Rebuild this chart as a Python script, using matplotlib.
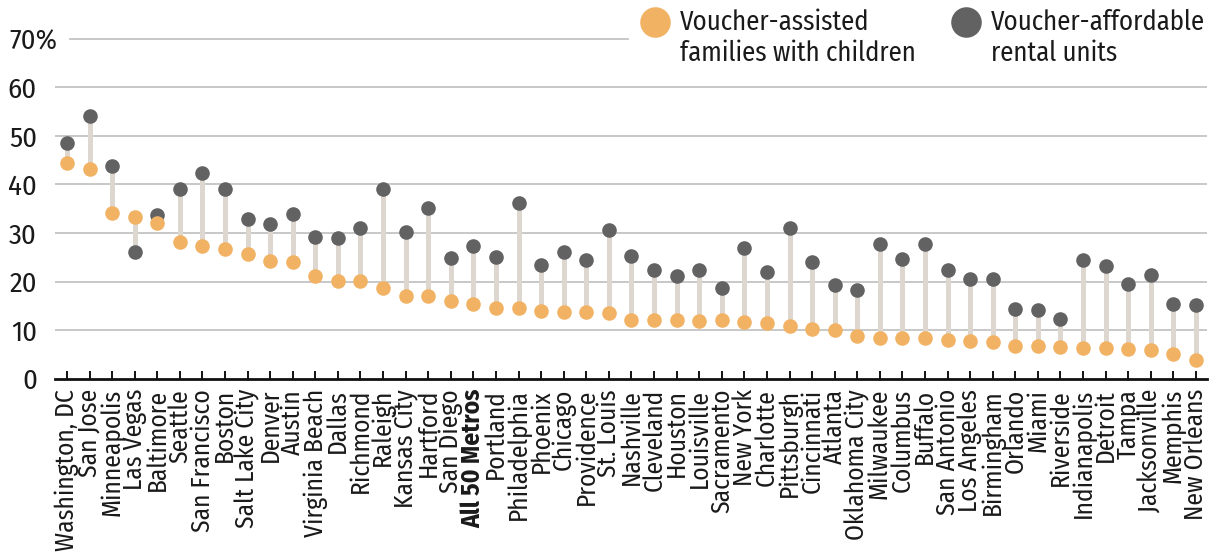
import matplotlib
matplotlib.use("Agg")
import matplotlib.pyplot as plt
import matplotlib.transforms as mtransforms
from matplotlib import font_manager

metros = ["Washington, DC", "San Jose", "Minneapolis", "Las Vegas", "Baltimore", "Seattle",
          "San Francisco", "Boston", "Salt Lake City", "Denver", "Austin", "Virginia Beach",
          "Dallas", "Richmond", "Raleigh", "Kansas City", "Hartford", "San Diego",
          "All 50 Metros", "Portland", "Philadelphia", "Phoenix", "Chicago", "Providence",
          "St. Louis", "Nashville", "Cleveland", "Houston", "Louisville", "Sacramento",
          "New York", "Charlotte", "Pittsburgh", "Cincinnati", "Atlanta", "Oklahoma City",
          "Milwaukee", "Columbus", "Buffalo", "San Antonio", "Los Angeles", "Birmingham",
          "Orlando", "Miami", "Riverside", "Indianapolis", "Detroit", "Tampa",
          "Jacksonville", "Memphis", "New Orleans"]

families = [44.5, 43.1, 34.2, 33.2, 32.1, 28.1, 27.4, 26.6, 25.6, 24.2, 24.0, 21.1,
            20.1, 20.1, 18.6, 17.1, 17.1, 16.0, 15.4, 14.6, 14.6, 14.0, 13.8, 13.7,
            13.6, 12.1, 12.0, 12.0, 11.9, 12.0, 11.6, 11.5, 10.9, 10.3, 10.0, 8.8,
            8.4, 8.4, 8.3, 8.0, 7.7, 7.5, 6.7, 6.6, 6.4, 6.3, 6.2, 6.0,
            5.8, 5.1, 3.9]

units = [48.6, 54.2, 43.8, 26.1, 33.8, 39.0, 42.3, 39.0, 32.9, 31.9, 34.0, 29.1,
         29.0, 31.0, 39.0, 30.3, 35.1, 24.8, 27.3, 25.0, 36.2, 23.4, 26.0, 24.4,
         30.7, 25.3, 22.3, 21.2, 22.3, 18.6, 26.9, 22.0, 31.1, 24.0, 19.2, 18.2,
         27.8, 24.7, 27.8, 22.3, 20.5, 20.5, 14.3, 14.2, 12.3, 24.4, 23.2, 19.5,
         21.4, 15.3, 15.1]

yticks = [0, 10, 20, 30, 40, 50, 60, 70]
legend_labels = ["Voucher-assisted\nfamilies with children", "Voucher-affordable\nrental units"]

ORANGE = "#F2B264"
GRAY = "#626262"
LINEC = "#DDD7D0"
GRID = "#C4C4C4"
TXT = "#1a1a1a"

names = {f.name for f in font_manager.fontManager.ttflist}
FONT = "DejaVu Sans"
for cand in ["Fira Sans Condensed", "Open Sans Condensed", "Roboto Condensed", "PT Sans Narrow",
             "Archivo Narrow", "Liberation Sans Narrow", "Roboto"]:
    if cand in names:
        FONT = cand
        break
plt.rcParams["font.family"] = [FONT, "DejaVu Sans"]

W, H = 1222, 554
fig = plt.figure(figsize=(W / 100, H / 100), dpi=100)
renderer = fig.canvas.get_renderer()


def fit(s, target, weight="normal"):
    t = fig.text(0, 0, s, fontsize=10, fontweight=weight)
    w = t.get_window_extent(renderer).width
    t.remove()
    return 10 * target / w


LAB_FS = fit("Washington, DC", 162)
TICK_FS = fit("60", 29)
LEG_FS = fit("Voucher-affordable", 215)

left_px, right_px = 55, 1207
bottom_px, top_px = 378.5, 39
ax = fig.add_axes([left_px / W, (H - bottom_px) / H, (right_px - left_px) / W, (bottom_px - top_px) / H])

n = len(metros)
x = list(range(n))
ax.set_xlim(-0.53, n - 1 + 0.49)
ax.set_ylim(0, 70)

for v in yticks[1:-1]:
    ax.axhline(v, color=GRID, lw=1.3, zorder=1)
x0 = (70 - left_px) / (right_px - left_px)
x1 = (628 - left_px) / (right_px - left_px)
ax.plot([x0, x1], [70, 70], color=GRID, lw=1.3,
        transform=mtransforms.blended_transform_factory(ax.transAxes, ax.transData),
        clip_on=False, zorder=1)

ax.vlines(x, families, units, color=LINEC, lw=3.6, zorder=2)
ax.plot(x, units, "o", color=GRAY, ms=10.5, mec="none", zorder=3, clip_on=False)
ax.plot(x, families, "o", color=ORANGE, ms=10.5, mec="none", zorder=4, clip_on=False)

for s in ["top", "right", "left"]:
    ax.spines[s].set_visible(False)
ax.spines["bottom"].set_color("#111111")
ax.spines["bottom"].set_linewidth(2.0)
ax.spines["bottom"].set_zorder(5)

ax.set_yticks([])
ax.set_xticks(x)
ax.tick_params(axis="x", direction="in", length=6, width=1.4, color="#111111", pad=7.5)
ax.set_xticklabels(metros, rotation=90, fontsize=LAB_FS, color=TXT, ha="center", va="top")
for lbl in ax.get_xticklabels():
    if lbl.get_text() == "All 50 Metros":
        lbl.set_fontweight("bold")

tr = mtransforms.blended_transform_factory(fig.transFigure, ax.transData)
for v in yticks:
    if v == 70:
        fig.text(9 / W, v, "70%", transform=tr, ha="left", va="center_baseline", fontsize=TICK_FS, color=TXT)
    else:
        fig.text(37 / W, v, str(v), transform=tr, ha="right", va="center_baseline", fontsize=TICK_FS, color=TXT)

for cx, lab, col in [(655, legend_labels[0], ORANGE), (966, legend_labels[1], GRAY)]:
    fig.lines.append(plt.Line2D([cx / W], [(H - 22) / H], marker="o", ms=22, color=col, mec="none",
                                transform=fig.transFigure))
    fig.text((cx + 25) / W, (H - 9) / H, lab, ha="left", va="top", fontsize=LEG_FS, color=TXT,
             linespacing=1.2)

fig.savefig("out.png", dpi=100)
